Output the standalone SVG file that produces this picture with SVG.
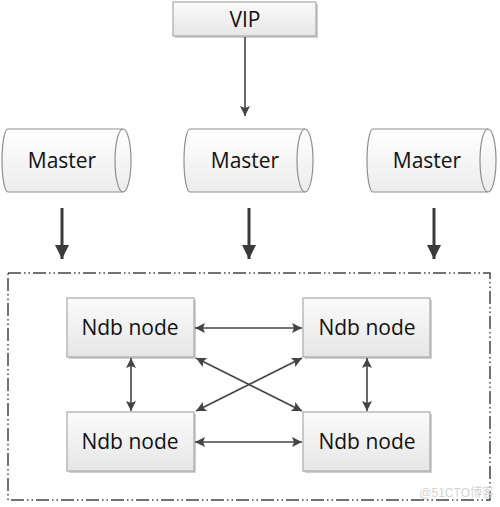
<svg xmlns="http://www.w3.org/2000/svg" width="500" height="507" viewBox="0 0 500 507">
<defs>
<linearGradient id="gbox" x1="0" y1="0" x2="0" y2="1">
<stop offset="0" stop-color="#fbfbfb"/><stop offset="1" stop-color="#e6e6e6"/>
</linearGradient>
<linearGradient id="gcyl" x1="0" y1="0" x2="0" y2="1">
<stop offset="0" stop-color="#ffffff"/><stop offset="1" stop-color="#ececec"/>
</linearGradient>
<marker id="a" viewBox="0 0 10 10" refX="10" refY="5" markerWidth="12" markerHeight="10" markerUnits="userSpaceOnUse" orient="auto-start-reverse">
<path d="M0,0 L10,5 L0,10 L2,5 Z" fill="#444"/>
</marker>
<marker id="ab" viewBox="0 0 10 10" refX="10" refY="5" markerWidth="14" markerHeight="14" markerUnits="userSpaceOnUse" orient="auto">
<path d="M0,0 L10,5 L0,10 Z" fill="#3a3a3a"/>
</marker>
</defs>
<style>
.box{fill:url(#gbox);stroke:#a8a8a8;stroke-width:1.2}
.shadow{fill:#d0d0d0}
.cyl{fill:url(#gcyl);stroke:#8f8f8f;stroke-width:1.2}
.cylin{fill:none;stroke:#8f8f8f;stroke-width:1.2}
.t{font-family:"Open Sans","Noto Sans","Liberation Sans",sans-serif;font-size:21px;fill:#111;text-anchor:middle}
.c{stroke:#444;stroke-width:1.6;fill:none}
.thick{stroke:#3a3a3a;stroke-width:3;fill:none}
.frame{fill:none;stroke:#444;stroke-width:1.5;stroke-dasharray:13 3 1.5 3 1.5 3}
</style>
<rect x="0" y="0" width="500" height="507" fill="#fff"/>
<rect class="frame" x="8" y="273" width="482" height="227"/>
<g id="vip">
<rect class="shadow" x="175" y="4" width="143" height="34"/>
<rect class="box" x="173" y="2" width="143" height="34"/>
<text class="t" x="245" y="27">VIP</text>
</g>
<g id="master1">
<path class="cyl" d="M8,129 L123,129 A8,31.5 0 0 1 123,192 L8,192 A6,31.5 0 0 1 8,129 Z"/>
<path class="cylin" d="M123,129 A8,31.5 0 0 0 123,192"/>
<text class="t" x="62" y="168">Master</text>
</g>
<g id="master2">
<path class="cyl" d="M190,129 L305,129 A8,31.5 0 0 1 305,192 L190,192 A6,31.5 0 0 1 190,129 Z"/>
<path class="cylin" d="M305,129 A8,31.5 0 0 0 305,192"/>
<text class="t" x="245" y="168">Master</text>
</g>
<g id="master3">
<path class="cyl" d="M373,129 L488,129 A8,31.5 0 0 1 488,192 L373,192 A6,31.5 0 0 1 373,129 Z"/>
<path class="cylin" d="M488,129 A8,31.5 0 0 0 488,192"/>
<text class="t" x="427" y="168">Master</text>
</g>
<g id="ndb1">
<rect class="shadow" x="69" y="300" width="127" height="59"/>
<rect class="box" x="67" y="298" width="127" height="59"/>
<text class="t" x="130" y="335">Ndb node</text>
</g>
<g id="ndb2">
<rect class="shadow" x="305" y="300" width="127" height="59"/>
<rect class="box" x="303" y="298" width="127" height="59"/>
<text class="t" x="367" y="335">Ndb node</text>
</g>
<g id="ndb3">
<rect class="shadow" x="69" y="414" width="127" height="59"/>
<rect class="box" x="67" y="412" width="127" height="59"/>
<text class="t" x="130" y="449">Ndb node</text>
</g>
<g id="ndb4">
<rect class="shadow" x="305" y="414" width="127" height="59"/>
<rect class="box" x="303" y="412" width="127" height="59"/>
<text class="t" x="367" y="449">Ndb node</text>
</g>
<g id="connectors">
<line class="c" x1="245" y1="37" x2="245" y2="116" marker-end="url(#a)"/>
<line class="thick" x1="62" y1="208" x2="62" y2="259" marker-end="url(#ab)"/>
<line class="thick" x1="249" y1="208" x2="249" y2="259" marker-end="url(#ab)"/>
<line class="thick" x1="434" y1="208" x2="434" y2="259" marker-end="url(#ab)"/>
<line class="c" x1="195" y1="328" x2="302" y2="328" marker-start="url(#a)" marker-end="url(#a)"/>
<line class="c" x1="195" y1="442" x2="302" y2="442" marker-start="url(#a)" marker-end="url(#a)"/>
<line class="c" x1="131" y1="358" x2="131" y2="411" marker-start="url(#a)" marker-end="url(#a)"/>
<line class="c" x1="367" y1="358" x2="367" y2="411" marker-start="url(#a)" marker-end="url(#a)"/>
<line class="c" x1="196" y1="358" x2="302" y2="411" marker-start="url(#a)" marker-end="url(#a)"/>
<line class="c" x1="302" y1="358" x2="196" y2="411" marker-start="url(#a)" marker-end="url(#a)"/>
</g>
<text x="494" y="497" font-family="'Liberation Sans','Noto Sans CJK SC',sans-serif" font-size="12" fill="#d4d4d4" text-anchor="end">@51CTO博客</text>
</svg>
